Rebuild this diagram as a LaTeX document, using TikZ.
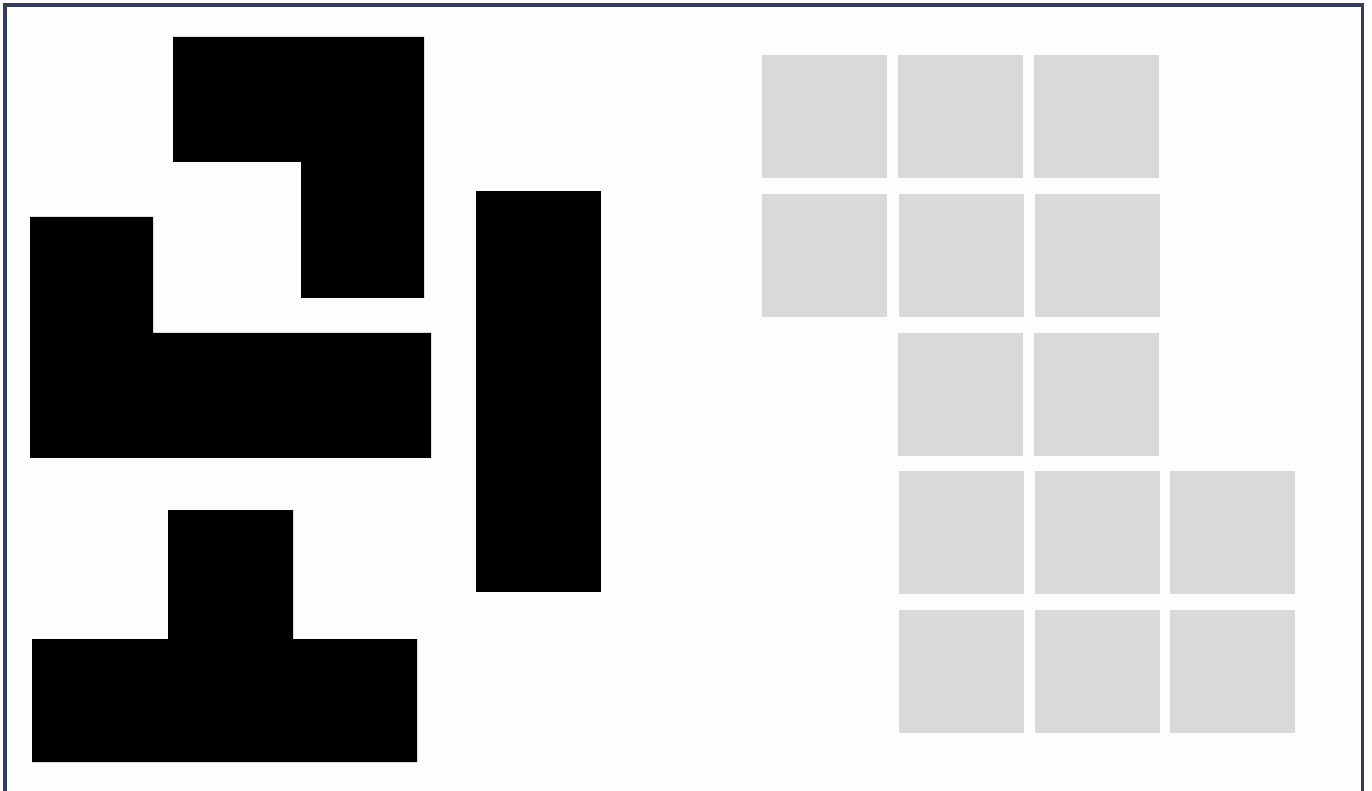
\documentclass[tikz,border=0pt]{standalone}
\definecolor{bgc}{HTML}{FDFDFD}
\definecolor{framec}{HTML}{333D5C}
\definecolor{tilec}{HTML}{D9D9D9}
\tikzset{
  piece/.style={fill=black, draw=none},
  tile/.style={fill=tilec, draw=none},
  framebox/.style={draw=framec, line width=1.8pt}
}
\begin{document}
\begin{tikzpicture}[x=0.5pt,y=-0.5pt]
\useasboundingbox (0,0) rectangle (1372,791);
\fill[bgc] (0,0) rectangle (1372,791);
\draw[framebox] (4.8,4.8) rectangle (1362.6,800);
% black pieces
\fill[piece] (173,37) -- (424,37) -- (424,298) -- (301,298) -- (301,162) -- (173,162) -- cycle;
\fill[piece] (30,217) -- (153,217) -- (153,333) -- (431,333) -- (431,458) -- (30,458) -- cycle;
\fill[piece] (168,510) -- (293,510) -- (293,639) -- (417,639) -- (417,762) -- (32,762) -- (32,639) -- (168,639) -- cycle;
\fill[piece] (476,191) rectangle (601,592);
% gray tiles
\fill[tile] (762,55) rectangle (887,178);
\fill[tile] (898,55) rectangle (1023,178);
\fill[tile] (1034,55) rectangle (1159,178);
\fill[tile] (762,194) rectangle (887,317);
\fill[tile] (899,194) rectangle (1024,317);
\fill[tile] (1035,194) rectangle (1160,317);
\fill[tile] (898,333) rectangle (1023,456);
\fill[tile] (1034,333) rectangle (1159,456);
\fill[tile] (899,471) rectangle (1024,594);
\fill[tile] (1035,471) rectangle (1160,594);
\fill[tile] (1170,471) rectangle (1295,594);
\fill[tile] (899,610) rectangle (1024,733);
\fill[tile] (1035,610) rectangle (1160,733);
\fill[tile] (1170,610) rectangle (1295,733);
\end{tikzpicture}
\end{document}
